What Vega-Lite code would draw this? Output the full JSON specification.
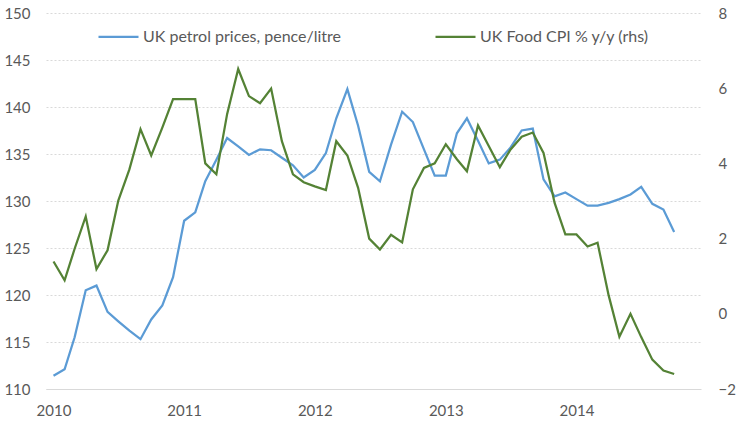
{
  "$schema": "https://vega.github.io/schema/vega-lite/v6.json",
  "width": 655,
  "height": 376,
  "autosize": {"type": "none"},
  "padding": {"left": 46, "top": 13, "right": 35, "bottom": 39},
  "background": "white",
  "config": {
    "view": {"stroke": null},
    "font": "Lato",
    "axis": {"labelFont": "Lato", "labelFontSize": 15, "labelColor": "#595959", "ticks": false, "title": null},
    "legend": {"labelFont": "Lato", "labelFontSize": 16, "labelColor": "#595959", "labelLimit": 400}
  },
  "data": {"values": [
    {"date": "2010/01/01", "petrol": 111.4, "food": 1.39},
    {"date": "2010/02/01", "petrol": 112.1, "food": 0.89},
    {"date": "2010/03/01", "petrol": 115.5, "food": 1.73},
    {"date": "2010/04/01", "petrol": 120.5, "food": 2.59},
    {"date": "2010/05/01", "petrol": 121.0, "food": 1.19},
    {"date": "2010/06/01", "petrol": 118.2, "food": 1.69},
    {"date": "2010/07/01", "petrol": 117.2, "food": 3.01},
    {"date": "2010/08/01", "petrol": 116.2, "food": 3.84},
    {"date": "2010/09/01", "petrol": 115.3, "food": 4.91},
    {"date": "2010/10/01", "petrol": 117.4, "food": 4.21},
    {"date": "2010/11/01", "petrol": 118.9, "food": 4.95},
    {"date": "2010/12/01", "petrol": 121.9, "food": 5.71},
    {"date": "2011/01/01", "petrol": 127.9, "food": 5.71},
    {"date": "2011/02/01", "petrol": 128.8, "food": 5.71},
    {"date": "2011/03/01", "petrol": 132.1, "food": 4.0},
    {"date": "2011/04/01", "petrol": 134.4, "food": 3.71},
    {"date": "2011/05/01", "petrol": 136.7, "food": 5.31},
    {"date": "2011/06/01", "petrol": 135.8, "food": 6.51},
    {"date": "2011/07/01", "petrol": 134.9, "food": 5.79},
    {"date": "2011/08/01", "petrol": 135.5, "food": 5.6},
    {"date": "2011/09/01", "petrol": 135.4, "food": 5.99},
    {"date": "2011/10/01", "petrol": 134.6, "food": 4.59},
    {"date": "2011/11/01", "petrol": 133.8, "food": 3.71},
    {"date": "2011/12/01", "petrol": 132.5, "food": 3.5},
    {"date": "2012/01/01", "petrol": 133.3, "food": 3.39},
    {"date": "2012/02/01", "petrol": 135.1, "food": 3.29},
    {"date": "2012/03/01", "petrol": 138.8, "food": 4.59},
    {"date": "2012/04/01", "petrol": 141.9, "food": 4.21},
    {"date": "2012/05/01", "petrol": 138.0, "food": 3.35},
    {"date": "2012/06/01", "petrol": 133.1, "food": 2.0},
    {"date": "2012/07/01", "petrol": 132.1, "food": 1.71},
    {"date": "2012/08/01", "petrol": 136.0, "food": 2.1},
    {"date": "2012/09/01", "petrol": 139.5, "food": 1.9},
    {"date": "2012/10/01", "petrol": 138.4, "food": 3.31},
    {"date": "2012/11/01", "petrol": 135.5, "food": 3.88},
    {"date": "2012/12/01", "petrol": 132.7, "food": 4.0},
    {"date": "2013/01/01", "petrol": 132.7, "food": 4.51},
    {"date": "2013/02/01", "petrol": 137.2, "food": 4.11},
    {"date": "2013/03/01", "petrol": 138.8, "food": 3.79},
    {"date": "2013/04/01", "petrol": 136.4, "food": 5.01},
    {"date": "2013/05/01", "petrol": 134.0, "food": 4.46},
    {"date": "2013/06/01", "petrol": 134.4, "food": 3.9},
    {"date": "2013/07/01", "petrol": 135.7, "food": 4.37},
    {"date": "2013/08/01", "petrol": 137.5, "food": 4.71},
    {"date": "2013/09/01", "petrol": 137.7, "food": 4.82},
    {"date": "2013/10/01", "petrol": 132.3, "food": 4.28},
    {"date": "2013/11/01", "petrol": 130.5, "food": 2.95},
    {"date": "2013/12/01", "petrol": 130.9, "food": 2.11},
    {"date": "2014/01/01", "petrol": 130.2, "food": 2.11},
    {"date": "2014/02/01", "petrol": 129.5, "food": 1.79},
    {"date": "2014/03/01", "petrol": 129.5, "food": 1.89},
    {"date": "2014/04/01", "petrol": 129.8, "food": 0.49},
    {"date": "2014/05/01", "petrol": 130.2, "food": -0.61},
    {"date": "2014/06/01", "petrol": 130.7, "food": 0.0},
    {"date": "2014/07/01", "petrol": 131.5, "food": -0.62},
    {"date": "2014/08/01", "petrol": 129.7, "food": -1.22},
    {"date": "2014/09/01", "petrol": 129.1, "food": -1.51},
    {"date": "2014/10/01", "petrol": 126.7, "food": -1.6}
  ]},
  "encoding": {
    "x": {
      "field": "date", "type": "temporal",
      "scale": {"domain": [{"year": 2009, "month": 12, "date": 11}, {"year": 2014, "month": 12, "date": 15}]},
      "axis": {
        "values": [{"year": 2010, "month": 1, "date": 1}, {"year": 2011, "month": 1, "date": 1}, {"year": 2012, "month": 1, "date": 1}, {"year": 2013, "month": 1, "date": 1}, {"year": 2014, "month": 1, "date": 1}],
        "format": "%Y", "grid": false, "domainColor": "#d9d9d9", "domainWidth": 1, "labelPadding": 14
      }
    }
  },
  "layer": [
    {
      "mark": {"type": "line", "strokeWidth": 2.25},
      "encoding": {
        "y": {
          "field": "petrol", "type": "quantitative",
          "scale": {"domain": [110, 150], "nice": false, "zero": false},
          "axis": {"values": [110, 115, 120, 125, 130, 135, 140, 145, 150], "grid": true, "gridColor": "#d9d9d9", "gridDash": [2, 2], "gridWidth": 1, "domain": false, "labelPadding": 16}
        },
        "color": {"datum": "UK petrol prices, pence/litre"}
      }
    },
    {
      "mark": {"type": "line", "strokeWidth": 2.25},
      "encoding": {
        "y": {
          "field": "food", "type": "quantitative",
          "scale": {"domain": [-2, 8], "nice": false, "zero": false},
          "axis": {"orient": "right", "values": [-2, 0, 2, 4, 6, 8], "grid": false, "domain": false, "labelPadding": 17}
        },
        "color": {
          "datum": "UK Food CPI % y/y (rhs)",
          "scale": {"domain": ["UK petrol prices, pence/litre", "UK Food CPI % y/y (rhs)"], "range": ["#5B9BD5", "#548235"]},
          "legend": {
            "title": null, "orient": "none", "legendX": 51, "legendY": 2, "direction": "horizontal",
            "symbolType": "stroke", "symbolSize": 1600, "symbolStrokeWidth": 2.25, "labelOffset": 3,
            "columnPadding": 89, "padding": 0
          }
        }
      }
    }
  ],
  "resolve": {"scale": {"y": "independent"}}
}
